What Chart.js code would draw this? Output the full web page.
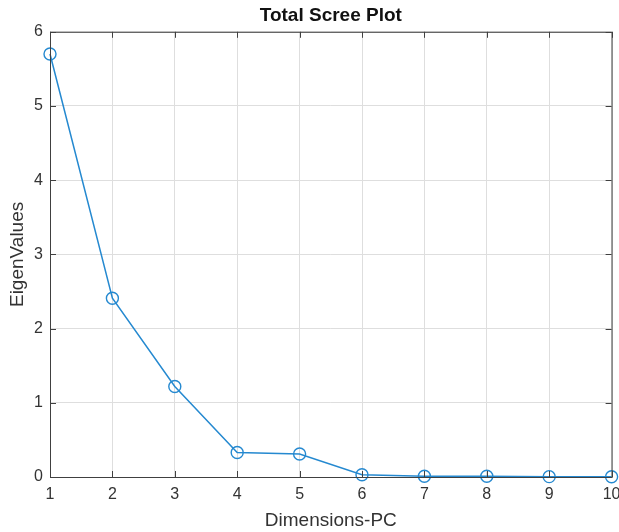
<!DOCTYPE html>
<html>
<head>
<meta charset="utf-8">
<script src="https://cdn.jsdelivr.net/npm/chart.js@4/dist/chart.umd.min.js"></script>
<style>
  html, body { margin: 0; padding: 0; background: #fff; }
  #wrap { width: 619px; height: 532px; }
</style>
</head>
<body>
<div id="wrap"><canvas id="scree"></canvas></div>
<script>
// Data
const components = [1, 2, 3, 4, 5, 6, 7, 8, 9, 10];
const eigenValues = [5.70, 2.41, 1.22, 0.33, 0.31, 0.03, 0.01, 0.01, 0.005, 0.003];
const yTicks = [0, 1, 2, 3, 4, 5, 6];

const lineBlue = "#2589d0";
const axisDark = "#333333";
const gridGray = "#dedede";
const fontFamily = "Liberation Sans, Arial, sans-serif";

// Matlab-style box with inward ticks on all four sides
const boxPlugin = {
  id: "box",
  afterDraw(chart) {
    const ctx = chart.ctx;
    const a = chart.chartArea;
    const xs = chart.scales.x;
    const ys = chart.scales.y;
    ctx.save();
    ctx.strokeStyle = "#404040";
    ctx.lineWidth = 1;
    ctx.strokeRect(a.left + 0.5, a.top + 0.5, a.right - a.left, a.bottom - a.top);
    ctx.beginPath();
    xs.ticks.forEach((t) => {
      const px = Math.round(xs.getPixelForValue(t.value)) + 0.5;
      ctx.moveTo(px, a.bottom);
      ctx.lineTo(px, a.bottom - 6);
      ctx.moveTo(px, a.top);
      ctx.lineTo(px, a.top + 6);
    });
    ys.ticks.forEach((t) => {
      const py = Math.round(ys.getPixelForValue(t.value)) + 0.5;
      ctx.moveTo(a.left, py);
      ctx.lineTo(a.left + 6, py);
      ctx.moveTo(a.right, py);
      ctx.lineTo(a.right - 6, py);
    });
    ctx.stroke();
    ctx.restore();
  }
};

const ctx = document.getElementById("scree").getContext("2d");
new Chart(ctx, {
  type: "line",
  data: {
    datasets: [{
      data: components.map((c, i) => ({ x: c, y: eigenValues[i] })),
      borderColor: lineBlue,
      borderWidth: 1.5,
      pointStyle: "circle",
      pointRadius: 6,
      pointBorderWidth: 1.4,
      pointBorderColor: lineBlue,
      pointBackgroundColor: "rgba(0,0,0,0)",
      tension: 0,
      clip: false
    }]
  },
  plugins: [boxPlugin],
  options: {
    responsive: true,
    maintainAspectRatio: false,
    animation: false,
    layout: { padding: { left: 0, right: 5, top: 0, bottom: 0 } },
    plugins: {
      legend: { display: false },
      tooltip: { enabled: false },
      title: {
        display: true,
        text: "Total Scree Plot",
        fullSize: false,
        color: "#111",
        font: { family: fontFamily, size: 19, weight: "bold" },
        padding: { top: 4, bottom: 5 }
      }
    },
    scales: {
      x: {
        type: "linear",
        min: 1,
        max: 10,
        afterBuildTicks: (scale) => {
          scale.ticks = components.map((v) => ({ value: v }));
        },
        afterFit: (scale) => {
          scale.paddingRight = 0;
          scale.paddingLeft = 0;
          scale.height = 55;
        },
        grid: { color: gridGray, drawTicks: false },
        border: { display: false },
        ticks: {
          color: axisDark,
          padding: 8,
          font: { family: fontFamily, size: 16 }
        },
        title: {
          display: true,
          text: "Dimensions-PC",
          color: axisDark,
          font: { family: fontFamily, size: 19 },
          padding: { top: 2, bottom: 0 }
        }
      },
      y: {
        min: 0,
        max: 6,
        afterBuildTicks: (scale) => {
          scale.ticks = yTicks.map((v) => ({ value: v }));
        },
        afterFit: (scale) => {
          scale.width = 50;
        },
        grid: { color: gridGray, drawTicks: false },
        border: { display: false },
        ticks: {
          color: axisDark,
          padding: 7,
          font: { family: fontFamily, size: 16 }
        },
        title: {
          display: true,
          text: "EigenValues",
          color: axisDark,
          font: { family: fontFamily, size: 19 },
          padding: { top: 6, bottom: 0 }
        }
      }
    }
  }
});
</script>
</body>
</html>
